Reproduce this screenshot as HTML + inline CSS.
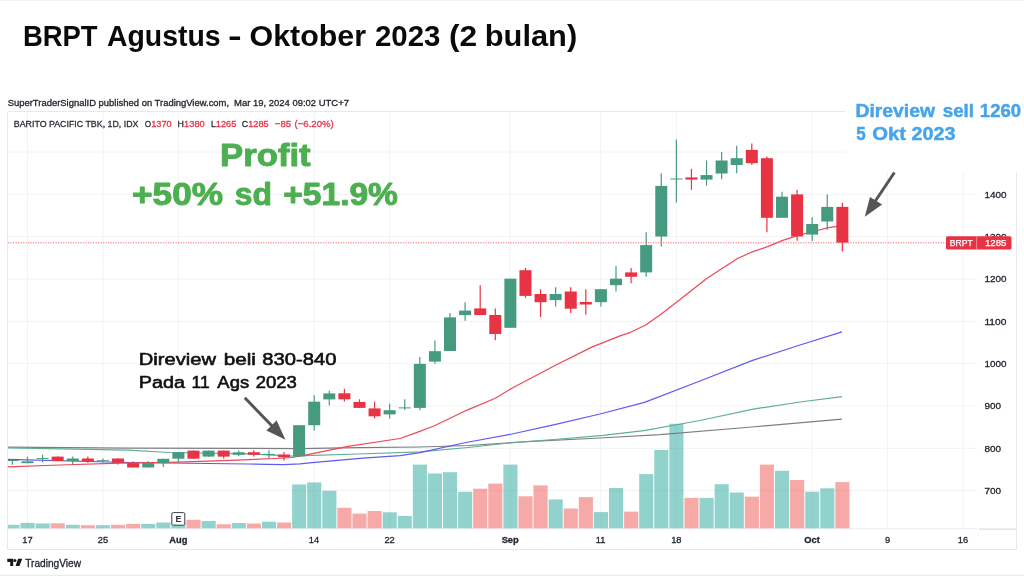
<!DOCTYPE html>
<html><head><meta charset="utf-8"><title>BRPT</title>
<style>
html,body{margin:0;padding:0;background:#fff;}
body{width:1024px;height:576px;overflow:hidden;position:relative;font-family:"Liberation Sans",sans-serif;}
svg text{font-family:"Liberation Sans",sans-serif;}
svg{will-change:transform;filter:blur(0.45px);}
.edge{position:absolute;left:0;width:1024px;background:#ececec;}
</style></head><body>
<div class="edge" style="top:0;height:1px;background:#f3f3f3"></div>
<svg width="1024" height="576" viewBox="0 0 1024 576" style="position:absolute;left:0;top:0">
<defs><clipPath id="cp"><rect x="8" y="112" width="1009" height="438"/></clipPath></defs>
<line x1="8" x2="977" y1="490.6" y2="490.6" stroke="#f1f2f4" stroke-width="1"/>
<line x1="8" x2="977" y1="448.3" y2="448.3" stroke="#f1f2f4" stroke-width="1"/>
<line x1="8" x2="977" y1="406.0" y2="406.0" stroke="#f1f2f4" stroke-width="1"/>
<line x1="8" x2="977" y1="363.6" y2="363.6" stroke="#f1f2f4" stroke-width="1"/>
<line x1="8" x2="977" y1="321.3" y2="321.3" stroke="#f1f2f4" stroke-width="1"/>
<line x1="8" x2="977" y1="279.0" y2="279.0" stroke="#f1f2f4" stroke-width="1"/>
<line x1="8" x2="977" y1="236.6" y2="236.6" stroke="#f1f2f4" stroke-width="1"/>
<line x1="8" x2="977" y1="194.3" y2="194.3" stroke="#f1f2f4" stroke-width="1"/>
<line x1="8" x2="977" y1="152.0" y2="152.0" stroke="#f1f2f4" stroke-width="1"/>
<line x1="27.5" x2="27.5" y1="112" y2="529" stroke="#f1f2f4" stroke-width="1"/>
<line x1="103" x2="103" y1="112" y2="529" stroke="#f1f2f4" stroke-width="1"/>
<line x1="178.4" x2="178.4" y1="112" y2="529" stroke="#f1f2f4" stroke-width="1"/>
<line x1="314" x2="314" y1="112" y2="529" stroke="#f1f2f4" stroke-width="1"/>
<line x1="389.6" x2="389.6" y1="112" y2="529" stroke="#f1f2f4" stroke-width="1"/>
<line x1="510.2" x2="510.2" y1="112" y2="529" stroke="#f1f2f4" stroke-width="1"/>
<line x1="600.7" x2="600.7" y1="112" y2="529" stroke="#f1f2f4" stroke-width="1"/>
<line x1="676.3" x2="676.3" y1="112" y2="529" stroke="#f1f2f4" stroke-width="1"/>
<line x1="812" x2="812" y1="112" y2="529" stroke="#f1f2f4" stroke-width="1"/>
<line x1="887.5" x2="887.5" y1="112" y2="529" stroke="#f1f2f4" stroke-width="1"/>
<line x1="963" x2="963" y1="112" y2="529" stroke="#f1f2f4" stroke-width="1"/>
<path d="M7.5 549.5 V111.5 H1016.5 V549.5 Z" fill="none" stroke="#e6e8ee" stroke-width="1"/>
<line x1="8" x2="977" y1="528.8" y2="528.8" stroke="#eaebf1" stroke-width="1.1"/>
<line x1="979" x2="1016.5" y1="529.1" y2="529.1" stroke="#dcdcec" stroke-width="1.3"/>
<g clip-path="url(#cp)">
<rect x="5.40" y="524.8" width="14.1" height="3.5" fill="rgba(38,166,154,0.5)"/>
<rect x="20.49" y="522.9" width="14.1" height="5.4" fill="rgba(38,166,154,0.5)"/>
<rect x="35.58" y="523.5" width="14.1" height="4.8" fill="rgba(38,166,154,0.5)"/>
<rect x="50.67" y="523.3" width="14.1" height="5.0" fill="rgba(239,83,80,0.5)"/>
<rect x="65.76" y="524.8" width="14.1" height="3.5" fill="rgba(38,166,154,0.5)"/>
<rect x="80.85" y="525.2" width="14.1" height="3.1" fill="rgba(239,83,80,0.5)"/>
<rect x="95.94" y="525.2" width="14.1" height="3.1" fill="rgba(38,166,154,0.5)"/>
<rect x="111.03" y="524.8" width="14.1" height="3.5" fill="rgba(239,83,80,0.5)"/>
<rect x="126.12" y="523.9" width="14.1" height="4.4" fill="rgba(239,83,80,0.5)"/>
<rect x="141.21" y="523.9" width="14.1" height="4.4" fill="rgba(38,166,154,0.5)"/>
<rect x="156.30" y="522.5" width="14.1" height="5.8" fill="rgba(38,166,154,0.5)"/>
<rect x="171.39" y="521.5" width="14.1" height="6.8" fill="rgba(38,166,154,0.5)"/>
<rect x="186.48" y="519.8" width="14.1" height="8.5" fill="rgba(239,83,80,0.5)"/>
<rect x="201.57" y="521.0" width="14.1" height="7.3" fill="rgba(38,166,154,0.5)"/>
<rect x="216.66" y="524.3" width="14.1" height="4.0" fill="rgba(239,83,80,0.5)"/>
<rect x="231.75" y="523.0" width="14.1" height="5.3" fill="rgba(38,166,154,0.5)"/>
<rect x="246.84" y="523.5" width="14.1" height="4.8" fill="rgba(239,83,80,0.5)"/>
<rect x="261.93" y="521.7" width="14.1" height="6.6" fill="rgba(38,166,154,0.5)"/>
<rect x="277.02" y="522.5" width="14.1" height="5.8" fill="rgba(239,83,80,0.5)"/>
<rect x="292.11" y="484.4" width="14.1" height="43.9" fill="rgba(38,166,154,0.5)"/>
<rect x="307.20" y="482.4" width="14.1" height="45.9" fill="rgba(38,166,154,0.5)"/>
<rect x="322.29" y="490.8" width="14.1" height="37.5" fill="rgba(38,166,154,0.5)"/>
<rect x="337.38" y="507.8" width="14.1" height="20.5" fill="rgba(239,83,80,0.5)"/>
<rect x="352.47" y="513.6" width="14.1" height="14.7" fill="rgba(239,83,80,0.5)"/>
<rect x="367.56" y="511.0" width="14.1" height="17.3" fill="rgba(239,83,80,0.5)"/>
<rect x="382.65" y="512.3" width="14.1" height="16.0" fill="rgba(38,166,154,0.5)"/>
<rect x="397.74" y="515.9" width="14.1" height="12.4" fill="rgba(38,166,154,0.5)"/>
<rect x="412.83" y="464.6" width="14.1" height="63.7" fill="rgba(38,166,154,0.5)"/>
<rect x="427.92" y="473.5" width="14.1" height="54.8" fill="rgba(38,166,154,0.5)"/>
<rect x="443.01" y="472.2" width="14.1" height="56.1" fill="rgba(38,166,154,0.5)"/>
<rect x="458.10" y="491.8" width="14.1" height="36.5" fill="rgba(38,166,154,0.5)"/>
<rect x="473.19" y="488.7" width="14.1" height="39.6" fill="rgba(239,83,80,0.5)"/>
<rect x="488.28" y="483.6" width="14.1" height="44.7" fill="rgba(239,83,80,0.5)"/>
<rect x="503.37" y="464.6" width="14.1" height="63.7" fill="rgba(38,166,154,0.5)"/>
<rect x="518.46" y="496.3" width="14.1" height="32.0" fill="rgba(239,83,80,0.5)"/>
<rect x="533.55" y="485.4" width="14.1" height="42.9" fill="rgba(239,83,80,0.5)"/>
<rect x="548.64" y="499.4" width="14.1" height="28.9" fill="rgba(38,166,154,0.5)"/>
<rect x="563.73" y="508.5" width="14.1" height="19.8" fill="rgba(239,83,80,0.5)"/>
<rect x="578.82" y="497.1" width="14.1" height="31.2" fill="rgba(239,83,80,0.5)"/>
<rect x="593.91" y="512.1" width="14.1" height="16.2" fill="rgba(38,166,154,0.5)"/>
<rect x="609.00" y="488.0" width="14.1" height="40.3" fill="rgba(38,166,154,0.5)"/>
<rect x="624.09" y="511.6" width="14.1" height="16.7" fill="rgba(239,83,80,0.5)"/>
<rect x="639.18" y="474.1" width="14.1" height="54.2" fill="rgba(38,166,154,0.5)"/>
<rect x="654.27" y="450.0" width="14.1" height="78.3" fill="rgba(38,166,154,0.5)"/>
<rect x="669.36" y="423.8" width="14.1" height="104.5" fill="rgba(38,166,154,0.5)"/>
<rect x="684.45" y="497.9" width="14.1" height="30.4" fill="rgba(239,83,80,0.5)"/>
<rect x="699.54" y="497.9" width="14.1" height="30.4" fill="rgba(38,166,154,0.5)"/>
<rect x="714.63" y="484.2" width="14.1" height="44.1" fill="rgba(38,166,154,0.5)"/>
<rect x="729.72" y="492.5" width="14.1" height="35.8" fill="rgba(38,166,154,0.5)"/>
<rect x="744.81" y="496.7" width="14.1" height="31.6" fill="rgba(239,83,80,0.5)"/>
<rect x="759.90" y="464.6" width="14.1" height="63.7" fill="rgba(239,83,80,0.5)"/>
<rect x="774.99" y="470.8" width="14.1" height="57.5" fill="rgba(38,166,154,0.5)"/>
<rect x="790.08" y="480.0" width="14.1" height="48.3" fill="rgba(239,83,80,0.5)"/>
<rect x="805.17" y="491.7" width="14.1" height="36.6" fill="rgba(38,166,154,0.5)"/>
<rect x="820.26" y="488.3" width="14.1" height="40.0" fill="rgba(38,166,154,0.5)"/>
<rect x="835.35" y="482.1" width="14.1" height="46.2" fill="rgba(239,83,80,0.5)"/>
<polyline points="8.0,447.2 128.0,448.1 248.0,448.3 300.0,448.5 358.0,447.6 420.0,447.0 468.0,445.5 527.0,441.7 600.0,438.0 660.0,434.6 752.0,427.0 842.0,419.2" fill="none" stroke="#7d7e84" stroke-width="1.25" stroke-linejoin="round"/>
<polyline points="8.0,447.8 128.0,450.2 170.0,452.5 248.0,453.8 292.0,456.2 305.0,455.6 358.0,454.0 420.0,451.9 468.0,447.5 509.0,443.0 560.0,439.0 603.0,435.4 644.0,430.6 700.0,420.5 752.0,409.3 800.0,402.0 842.0,396.6" fill="none" stroke="#5fae95" stroke-width="1.25" stroke-linejoin="round"/>
<polyline points="8.0,459.4 128.0,462.5 248.0,464.0 283.0,464.7 300.0,463.8 312.0,462.6 363.0,458.2 400.0,455.7 420.0,452.7 463.5,443.0 512.0,434.0 552.4,425.2 600.0,414.0 644.5,402.3 700.0,381.0 752.5,360.4 800.0,345.0 842.0,331.8" fill="none" stroke="#605af2" stroke-width="1.25" stroke-linejoin="round"/>
<polyline points="8.0,466.9 60.0,465.0 120.0,463.1 170.0,462.3 230.0,460.3 275.0,458.5 292.5,457.5 312.4,453.7 348.0,446.3 400.0,438.5 415.8,432.8 433.8,426.0 467.7,409.8 494.8,398.5 512.8,387.7 557.9,364.0 591.8,347.1 620.0,335.8 630.5,332.3 645.7,325.0 660.0,315.0 676.2,302.6 706.7,278.5 737.1,258.7 752.4,251.8 767.6,246.7 782.8,240.4 798.1,235.3 813.3,231.5 828.5,227.7 837.4,226.4 842.3,225.6" fill="none" stroke="#ee4858" stroke-width="1.25" stroke-linejoin="round"/>
<line x1="12.40" x2="12.40" y1="460.0" y2="464.7" stroke="#459a7f" stroke-width="1.2"/>
<rect x="6.40" y="460.0" width="12" height="1.0" fill="#459a7f"/>
<line x1="27.49" x2="27.49" y1="456.9" y2="463.2" stroke="#459a7f" stroke-width="1.2"/>
<rect x="21.49" y="461.3" width="12" height="1.9" fill="#459a7f"/>
<line x1="42.58" x2="42.58" y1="454.6" y2="462.5" stroke="#459a7f" stroke-width="1.2"/>
<rect x="36.58" y="458.0" width="12" height="0.9" fill="#459a7f"/>
<line x1="57.67" x2="57.67" y1="456.6" y2="461.0" stroke="#e83345" stroke-width="1.2"/>
<rect x="51.67" y="456.6" width="12" height="4.4" fill="#e83345"/>
<line x1="72.76" x2="72.76" y1="456.6" y2="464.6" stroke="#459a7f" stroke-width="1.2"/>
<rect x="66.76" y="458.5" width="12" height="2.5" fill="#459a7f"/>
<line x1="87.85" x2="87.85" y1="456.6" y2="462.7" stroke="#e83345" stroke-width="1.2"/>
<rect x="81.85" y="458.5" width="12" height="2.7" fill="#e83345"/>
<line x1="102.94" x2="102.94" y1="458.5" y2="462.5" stroke="#459a7f" stroke-width="1.2"/>
<rect x="96.94" y="460.2" width="12" height="0.9" fill="#459a7f"/>
<line x1="118.03" x2="118.03" y1="458.5" y2="464.4" stroke="#e83345" stroke-width="1.2"/>
<rect x="112.03" y="458.5" width="12" height="4.2" fill="#e83345"/>
<line x1="133.12" x2="133.12" y1="461.2" y2="467.5" stroke="#e83345" stroke-width="1.2"/>
<rect x="127.12" y="463.1" width="12" height="4.4" fill="#e83345"/>
<line x1="148.21" x2="148.21" y1="461.2" y2="467.5" stroke="#459a7f" stroke-width="1.2"/>
<rect x="142.21" y="463.1" width="12" height="4.4" fill="#459a7f"/>
<line x1="163.30" x2="163.30" y1="458.8" y2="466.9" stroke="#459a7f" stroke-width="1.2"/>
<rect x="157.30" y="458.8" width="12" height="4.4" fill="#459a7f"/>
<line x1="178.39" x2="178.39" y1="452.1" y2="462.5" stroke="#459a7f" stroke-width="1.2"/>
<rect x="172.39" y="452.1" width="12" height="6.6" fill="#459a7f"/>
<line x1="193.48" x2="193.48" y1="450.6" y2="458.8" stroke="#e83345" stroke-width="1.2"/>
<rect x="187.48" y="450.6" width="12" height="8.1" fill="#e83345"/>
<line x1="208.57" x2="208.57" y1="450.6" y2="456.6" stroke="#459a7f" stroke-width="1.2"/>
<rect x="202.57" y="450.6" width="12" height="6.0" fill="#459a7f"/>
<line x1="223.66" x2="223.66" y1="450.6" y2="458.4" stroke="#e83345" stroke-width="1.2"/>
<rect x="217.66" y="450.6" width="12" height="6.0" fill="#e83345"/>
<line x1="238.75" x2="238.75" y1="450.6" y2="456.2" stroke="#459a7f" stroke-width="1.2"/>
<rect x="232.75" y="452.3" width="12" height="2.5" fill="#459a7f"/>
<line x1="253.84" x2="253.84" y1="450.2" y2="456.4" stroke="#e83345" stroke-width="1.2"/>
<rect x="247.84" y="452.2" width="12" height="2.6" fill="#e83345"/>
<line x1="268.93" x2="268.93" y1="450.2" y2="458.3" stroke="#459a7f" stroke-width="1.2"/>
<rect x="262.93" y="453.9" width="12" height="1.0" fill="#459a7f"/>
<line x1="284.02" x2="284.02" y1="452.0" y2="460.6" stroke="#e83345" stroke-width="1.2"/>
<rect x="278.02" y="454.5" width="12" height="2.7" fill="#e83345"/>
<line x1="299.11" x2="299.11" y1="425.2" y2="456.4" stroke="#459a7f" stroke-width="1.2"/>
<rect x="293.11" y="425.2" width="12" height="31.2" fill="#459a7f"/>
<line x1="314.20" x2="314.20" y1="395.2" y2="430.6" stroke="#459a7f" stroke-width="1.2"/>
<rect x="308.20" y="401.7" width="12" height="23.5" fill="#459a7f"/>
<line x1="329.29" x2="329.29" y1="390.8" y2="405.6" stroke="#459a7f" stroke-width="1.2"/>
<rect x="323.29" y="393.4" width="12" height="6.0" fill="#459a7f"/>
<line x1="344.38" x2="344.38" y1="388.7" y2="401.6" stroke="#e83345" stroke-width="1.2"/>
<rect x="338.38" y="393.3" width="12" height="6.0" fill="#e83345"/>
<line x1="359.47" x2="359.47" y1="399.3" y2="407.9" stroke="#e83345" stroke-width="1.2"/>
<rect x="353.47" y="402.0" width="12" height="5.9" fill="#e83345"/>
<line x1="374.56" x2="374.56" y1="401.6" y2="418.5" stroke="#e83345" stroke-width="1.2"/>
<rect x="368.56" y="408.4" width="12" height="7.9" fill="#e83345"/>
<line x1="389.65" x2="389.65" y1="403.8" y2="418.5" stroke="#459a7f" stroke-width="1.2"/>
<rect x="383.65" y="410.2" width="12" height="4.2" fill="#459a7f"/>
<line x1="404.74" x2="404.74" y1="399.3" y2="410.0" stroke="#459a7f" stroke-width="1.2"/>
<rect x="398.74" y="407.4" width="12" height="1.0" fill="#459a7f"/>
<line x1="419.83" x2="419.83" y1="357.1" y2="410.0" stroke="#459a7f" stroke-width="1.2"/>
<rect x="413.83" y="363.9" width="12" height="44.0" fill="#459a7f"/>
<line x1="434.92" x2="434.92" y1="340.6" y2="363.7" stroke="#459a7f" stroke-width="1.2"/>
<rect x="428.92" y="351.2" width="12" height="10.4" fill="#459a7f"/>
<line x1="450.01" x2="450.01" y1="312.9" y2="351.0" stroke="#459a7f" stroke-width="1.2"/>
<rect x="444.01" y="317.4" width="12" height="33.6" fill="#459a7f"/>
<line x1="465.10" x2="465.10" y1="302.3" y2="320.8" stroke="#459a7f" stroke-width="1.2"/>
<rect x="459.10" y="310.6" width="12" height="4.5" fill="#459a7f"/>
<line x1="480.19" x2="480.19" y1="285.2" y2="315.0" stroke="#e83345" stroke-width="1.2"/>
<rect x="474.19" y="308.4" width="12" height="6.6" fill="#e83345"/>
<line x1="495.28" x2="495.28" y1="308.4" y2="340.2" stroke="#e83345" stroke-width="1.2"/>
<rect x="489.28" y="315.0" width="12" height="19.0" fill="#e83345"/>
<line x1="510.37" x2="510.37" y1="278.7" y2="327.8" stroke="#459a7f" stroke-width="1.2"/>
<rect x="504.37" y="278.7" width="12" height="49.1" fill="#459a7f"/>
<line x1="525.46" x2="525.46" y1="268.0" y2="297.8" stroke="#e83345" stroke-width="1.2"/>
<rect x="519.46" y="270.2" width="12" height="25.7" fill="#e83345"/>
<line x1="540.55" x2="540.55" y1="289.2" y2="316.9" stroke="#e83345" stroke-width="1.2"/>
<rect x="534.55" y="294.0" width="12" height="8.2" fill="#e83345"/>
<line x1="555.64" x2="555.64" y1="287.3" y2="306.4" stroke="#459a7f" stroke-width="1.2"/>
<rect x="549.64" y="294.0" width="12" height="6.1" fill="#459a7f"/>
<line x1="570.73" x2="570.73" y1="287.3" y2="312.9" stroke="#e83345" stroke-width="1.2"/>
<rect x="564.73" y="291.5" width="12" height="17.2" fill="#e83345"/>
<line x1="585.82" x2="585.82" y1="289.2" y2="314.8" stroke="#e83345" stroke-width="1.2"/>
<rect x="579.82" y="302.0" width="12" height="2.5" fill="#e83345"/>
<line x1="600.91" x2="600.91" y1="289.2" y2="306.4" stroke="#459a7f" stroke-width="1.2"/>
<rect x="594.91" y="289.2" width="12" height="13.0" fill="#459a7f"/>
<line x1="616.00" x2="616.00" y1="266.1" y2="291.5" stroke="#459a7f" stroke-width="1.2"/>
<rect x="610.00" y="278.7" width="12" height="6.5" fill="#459a7f"/>
<line x1="631.09" x2="631.09" y1="268.0" y2="283.3" stroke="#e83345" stroke-width="1.2"/>
<rect x="625.09" y="272.4" width="12" height="4.4" fill="#e83345"/>
<line x1="646.18" x2="646.18" y1="232.2" y2="276.8" stroke="#459a7f" stroke-width="1.2"/>
<rect x="640.18" y="245.1" width="12" height="27.3" fill="#459a7f"/>
<line x1="661.27" x2="661.27" y1="173.3" y2="246.6" stroke="#459a7f" stroke-width="1.2"/>
<rect x="655.27" y="185.9" width="12" height="50.6" fill="#459a7f"/>
<line x1="676.36" x2="676.36" y1="139.5" y2="202.6" stroke="#459a7f" stroke-width="1.2"/>
<rect x="670.36" y="178.5" width="12" height="1.0" fill="#459a7f"/>
<line x1="691.45" x2="691.45" y1="168.8" y2="189.8" stroke="#e83345" stroke-width="1.2"/>
<rect x="685.45" y="177.4" width="12" height="2.2" fill="#e83345"/>
<line x1="706.54" x2="706.54" y1="160.5" y2="185.7" stroke="#459a7f" stroke-width="1.2"/>
<rect x="700.54" y="175.1" width="12" height="4.5" fill="#459a7f"/>
<line x1="721.63" x2="721.63" y1="152.1" y2="179.2" stroke="#459a7f" stroke-width="1.2"/>
<rect x="715.63" y="160.5" width="12" height="13.0" fill="#459a7f"/>
<line x1="736.72" x2="736.72" y1="145.8" y2="173.3" stroke="#459a7f" stroke-width="1.2"/>
<rect x="730.72" y="158.2" width="12" height="6.8" fill="#459a7f"/>
<line x1="751.81" x2="751.81" y1="143.5" y2="165.0" stroke="#e83345" stroke-width="1.2"/>
<rect x="745.81" y="149.9" width="12" height="13.3" fill="#e83345"/>
<line x1="766.90" x2="766.90" y1="156.4" y2="232.2" stroke="#e83345" stroke-width="1.2"/>
<rect x="760.90" y="158.2" width="12" height="59.6" fill="#e83345"/>
<line x1="781.99" x2="781.99" y1="191.8" y2="217.8" stroke="#459a7f" stroke-width="1.2"/>
<rect x="775.99" y="196.7" width="12" height="21.1" fill="#459a7f"/>
<line x1="797.08" x2="797.08" y1="189.7" y2="240.8" stroke="#e83345" stroke-width="1.2"/>
<rect x="791.08" y="194.4" width="12" height="42.1" fill="#e83345"/>
<line x1="812.17" x2="812.17" y1="217.3" y2="241.0" stroke="#459a7f" stroke-width="1.2"/>
<rect x="806.17" y="224.0" width="12" height="10.6" fill="#459a7f"/>
<line x1="827.26" x2="827.26" y1="194.4" y2="229.8" stroke="#459a7f" stroke-width="1.2"/>
<rect x="821.26" y="206.9" width="12" height="14.6" fill="#459a7f"/>
<line x1="842.35" x2="842.35" y1="202.7" y2="251.5" stroke="#e83345" stroke-width="1.2"/>
<rect x="836.35" y="206.9" width="12" height="35.8" fill="#e83345"/>
</g>
<line x1="8" x2="946" y1="242.8" y2="242.8" stroke="#ee6a78" stroke-width="1" stroke-dasharray="1.2 1.3"/>
<rect x="845.5" y="90" width="180" height="82" fill="#fff"/>
<text x="984.4" y="493.8" font-size="9.5" fill="#23262f" stroke="#23262f" stroke-width="0.3" textLength="16.6" lengthAdjust="spacingAndGlyphs">700</text>
<text x="984.4" y="451.5" font-size="9.5" fill="#23262f" stroke="#23262f" stroke-width="0.3" textLength="16.6" lengthAdjust="spacingAndGlyphs">800</text>
<text x="984.4" y="409.2" font-size="9.5" fill="#23262f" stroke="#23262f" stroke-width="0.3" textLength="16.6" lengthAdjust="spacingAndGlyphs">900</text>
<text x="984.4" y="366.8" font-size="9.5" fill="#23262f" stroke="#23262f" stroke-width="0.3" textLength="22" lengthAdjust="spacingAndGlyphs">1000</text>
<text x="984.4" y="324.5" font-size="9.5" fill="#23262f" stroke="#23262f" stroke-width="0.3" textLength="22" lengthAdjust="spacingAndGlyphs">1100</text>
<text x="984.4" y="282.2" font-size="9.5" fill="#23262f" stroke="#23262f" stroke-width="0.3" textLength="22" lengthAdjust="spacingAndGlyphs">1200</text>
<text x="984.4" y="239.8" font-size="9.5" fill="#23262f" stroke="#23262f" stroke-width="0.3" textLength="22" lengthAdjust="spacingAndGlyphs">1300</text>
<text x="984.4" y="197.5" font-size="9.5" fill="#23262f" stroke="#23262f" stroke-width="0.3" textLength="22" lengthAdjust="spacingAndGlyphs">1400</text>
<rect x="946" y="236.2" width="65.5" height="13.4" rx="1.5" fill="#e83345"/>
<line x1="976.6" x2="976.6" y1="236.2" y2="249.6" stroke="#f59aa3" stroke-width="0.8"/>
<text x="949.8" y="246.2" font-size="9.3" fill="#fff" stroke="#fff" stroke-width="0.25" textLength="23" lengthAdjust="spacingAndGlyphs">BRPT</text>
<text x="985" y="246.2" font-size="9.3" fill="#fff" stroke="#fff" stroke-width="0.25" textLength="21.5" lengthAdjust="spacingAndGlyphs">1285</text>
<text x="27.5" y="542.8" font-size="9.3" fill="#23262f" stroke="#23262f" stroke-width="0.3" text-anchor="middle">17</text>
<text x="103" y="542.8" font-size="9.3" fill="#23262f" stroke="#23262f" stroke-width="0.3" text-anchor="middle">25</text>
<text x="178.4" y="542.8" font-size="9.3" fill="#23262f" stroke="#23262f" stroke-width="0.3" text-anchor="middle" font-weight="bold">Aug</text>
<text x="314" y="542.8" font-size="9.3" fill="#23262f" stroke="#23262f" stroke-width="0.3" text-anchor="middle">14</text>
<text x="389.6" y="542.8" font-size="9.3" fill="#23262f" stroke="#23262f" stroke-width="0.3" text-anchor="middle">22</text>
<text x="510.2" y="542.8" font-size="9.3" fill="#23262f" stroke="#23262f" stroke-width="0.3" text-anchor="middle" font-weight="bold">Sep</text>
<text x="600.7" y="542.8" font-size="9.3" fill="#23262f" stroke="#23262f" stroke-width="0.3" text-anchor="middle">11</text>
<text x="676.3" y="542.8" font-size="9.3" fill="#23262f" stroke="#23262f" stroke-width="0.3" text-anchor="middle">18</text>
<text x="812" y="542.8" font-size="9.3" fill="#23262f" stroke="#23262f" stroke-width="0.3" text-anchor="middle" font-weight="bold">Oct</text>
<text x="887.5" y="542.8" font-size="9.3" fill="#23262f" stroke="#23262f" stroke-width="0.3" text-anchor="middle">9</text>
<text x="963" y="542.8" font-size="9.3" fill="#23262f" stroke="#23262f" stroke-width="0.3" text-anchor="middle">16</text>
<rect x="171.8" y="512.6" width="13" height="12.6" rx="1.5" fill="#fff" stroke="#3a3d47" stroke-width="1"/>
<text x="178.4" y="522.3" font-size="9" font-weight="bold" fill="#2e313b" text-anchor="middle">E</text>
<line x1="244.8" y1="397.8" x2="274" y2="428" stroke="#555557" stroke-width="3"/>
<polygon points="285.5,439.7 276.6,420.5 266.4,430.6" fill="#555557"/>
<line x1="894.4" y1="172.5" x2="874" y2="203" stroke="#555557" stroke-width="3"/>
<polygon points="864.8,216.7 870,196.9 882.1,204.6" fill="#555557"/>
<text x="7.7" y="106.3" font-size="9.4" fill="#23262f" stroke="#23262f" stroke-width="0.3" textLength="221.4" lengthAdjust="spacingAndGlyphs">SuperTraderSignalID published on TradingView.com,</text>
<text x="234" y="106.3" font-size="9.4" fill="#23262f" stroke="#23262f" stroke-width="0.3" textLength="115" lengthAdjust="spacingAndGlyphs">Mar 19, 2024 09:02 UTC+7</text>
<text x="13.8" y="126.7" font-size="9.4" fill="#2b2e38" stroke="#2b2e38" stroke-width="0.3" textLength="124.7" lengthAdjust="spacingAndGlyphs">BARITO PACIFIC TBK, 1D, IDX</text>
<text x="144.7" y="126.7" font-size="9.4" fill="#2b2e38" stroke="#2b2e38" stroke-width="0.3" textLength="6.4" lengthAdjust="spacingAndGlyphs">O</text>
<text x="151.2" y="126.7" font-size="9.4" fill="#e83345" stroke="#e83345" stroke-width="0.3" textLength="20.4" lengthAdjust="spacingAndGlyphs">1370</text>
<text x="177.6" y="126.7" font-size="9.4" fill="#2b2e38" stroke="#2b2e38" stroke-width="0.3" textLength="6.4" lengthAdjust="spacingAndGlyphs">H</text>
<text x="184.1" y="126.7" font-size="9.4" fill="#e83345" stroke="#e83345" stroke-width="0.3" textLength="20.6" lengthAdjust="spacingAndGlyphs">1380</text>
<text x="211.0" y="126.7" font-size="9.4" fill="#2b2e38" stroke="#2b2e38" stroke-width="0.3" textLength="4.8" lengthAdjust="spacingAndGlyphs">L</text>
<text x="215.8" y="126.7" font-size="9.4" fill="#e83345" stroke="#e83345" stroke-width="0.3" textLength="20.6" lengthAdjust="spacingAndGlyphs">1265</text>
<text x="241.8" y="126.7" font-size="9.4" fill="#2b2e38" stroke="#2b2e38" stroke-width="0.3" textLength="6.4" lengthAdjust="spacingAndGlyphs">C</text>
<text x="248.3" y="126.7" font-size="9.4" fill="#e83345" stroke="#e83345" stroke-width="0.3" textLength="20.3" lengthAdjust="spacingAndGlyphs">1285</text>
<text x="274.8" y="126.7" font-size="9.4" fill="#e83345" stroke="#e83345" stroke-width="0.3" textLength="16.3" lengthAdjust="spacingAndGlyphs">−85</text>
<text x="294.5" y="126.7" font-size="9.4" fill="#e83345" stroke="#e83345" stroke-width="0.3" textLength="39.2" lengthAdjust="spacingAndGlyphs">(−6.20%)</text>
<text transform="translate(22.88 45.60) scale(0.2746 0.2870)" font-size="100" font-weight="bold" fill="#0a0a0a">BRPT</text>
<text transform="translate(106.95 45.60) scale(0.2842 0.2870)" font-size="100" font-weight="bold" fill="#0a0a0a">Agustus</text>
<text transform="translate(228.05 45.60) scale(0.4120 0.2870)" font-size="100" font-weight="bold" fill="#0a0a0a">-</text>
<text transform="translate(249.59 45.60) scale(0.3037 0.2870)" font-size="100" font-weight="bold" fill="#0a0a0a">Oktober</text>
<text transform="translate(374.92 45.60) scale(0.2944 0.2870)" font-size="100" font-weight="bold" fill="#0a0a0a">2023</text>
<text transform="translate(449.01 45.60) scale(0.3175 0.2870)" font-size="100" font-weight="bold" fill="#0a0a0a">(2</text>
<text transform="translate(484.74 45.60) scale(0.3083 0.2870)" font-size="100" font-weight="bold" fill="#0a0a0a">bulan)</text>
<text transform="translate(220.06 166.28) scale(0.3473 0.3155)" font-size="100" font-weight="bold" fill="#4caf50" stroke="#4caf50" stroke-width="3" stroke-linejoin="round">Profit</text>
<text transform="translate(132.04 204.89) scale(0.3524 0.3127)" font-size="100" font-weight="bold" fill="#4caf50" stroke="#4caf50" stroke-width="3" stroke-linejoin="round">+50%</text>
<text transform="translate(234.66 204.89) scale(0.3191 0.3127)" font-size="100" font-weight="bold" fill="#4caf50" stroke="#4caf50" stroke-width="3" stroke-linejoin="round">sd</text>
<text transform="translate(283.29 204.89) scale(0.3352 0.3127)" font-size="100" font-weight="bold" fill="#4caf50" stroke="#4caf50" stroke-width="3" stroke-linejoin="round">+51.9%</text>
<text transform="translate(138.69 365.35) scale(0.2016 0.1740)" font-size="100" font-weight="normal" fill="#111" stroke="#111" stroke-width="3.5" stroke-linejoin="round">Direview</text>
<text transform="translate(223.77 365.35) scale(0.2068 0.1740)" font-size="100" font-weight="normal" fill="#111" stroke="#111" stroke-width="3.5" stroke-linejoin="round">beli</text>
<text transform="translate(262.19 365.35) scale(0.2022 0.1740)" font-size="100" font-weight="normal" fill="#111" stroke="#111" stroke-width="3.5" stroke-linejoin="round">830-840</text>
<text transform="translate(138.71 387.55) scale(0.1983 0.1726)" font-size="100" font-weight="normal" fill="#111" stroke="#111" stroke-width="3.5" stroke-linejoin="round">Pada</text>
<text transform="translate(191.55 387.55) scale(0.1747 0.1726)" font-size="100" font-weight="normal" fill="#111" stroke="#111" stroke-width="3.5" stroke-linejoin="round">11</text>
<text transform="translate(217.37 387.55) scale(0.1843 0.1726)" font-size="100" font-weight="normal" fill="#111" stroke="#111" stroke-width="3.5" stroke-linejoin="round">Ags</text>
<text transform="translate(255.65 387.55) scale(0.1848 0.1726)" font-size="100" font-weight="normal" fill="#111" stroke="#111" stroke-width="3.5" stroke-linejoin="round">2023</text>
<text transform="translate(855.53 117.42) scale(0.1934 0.1789)" font-size="100" font-weight="bold" fill="#46a4ea" stroke="#46a4ea" stroke-width="2.5" stroke-linejoin="round">Direview</text>
<text transform="translate(942.73 117.42) scale(0.1874 0.1789)" font-size="100" font-weight="bold" fill="#46a4ea" stroke="#46a4ea" stroke-width="2.5" stroke-linejoin="round">sell</text>
<text transform="translate(979.87 117.42) scale(0.1855 0.1789)" font-size="100" font-weight="bold" fill="#46a4ea" stroke="#46a4ea" stroke-width="2.5" stroke-linejoin="round">1260</text>
<text transform="translate(856.16 139.82) scale(0.1692 0.1789)" font-size="100" font-weight="bold" fill="#46a4ea" stroke="#46a4ea" stroke-width="2.5" stroke-linejoin="round">5</text>
<text transform="translate(872.29 139.82) scale(0.2024 0.1789)" font-size="100" font-weight="bold" fill="#46a4ea" stroke="#46a4ea" stroke-width="2.5" stroke-linejoin="round">Okt</text>
<text transform="translate(911.61 139.82) scale(0.1972 0.1789)" font-size="100" font-weight="bold" fill="#46a4ea" stroke="#46a4ea" stroke-width="2.5" stroke-linejoin="round">2023</text>
<g fill="#16181d"><path d="M7.3 558.8 h5.9 v7.3 h-3 v-4 h-2.9z"/><circle cx="14.9" cy="560.5" r="1.55"/><path d="M18.1 558.8 h4.2 l-2.9 7.3 h-3.9z"/></g>
<text x="25.2" y="566.8" font-size="10.4" fill="#1e2230" stroke="#1e2230" stroke-width="0.3" textLength="55.8" lengthAdjust="spacingAndGlyphs">TradingView</text>
<rect x="0" y="574.6" width="1024" height="1.4" fill="#eeeeee"/>
</svg>
</body></html>
